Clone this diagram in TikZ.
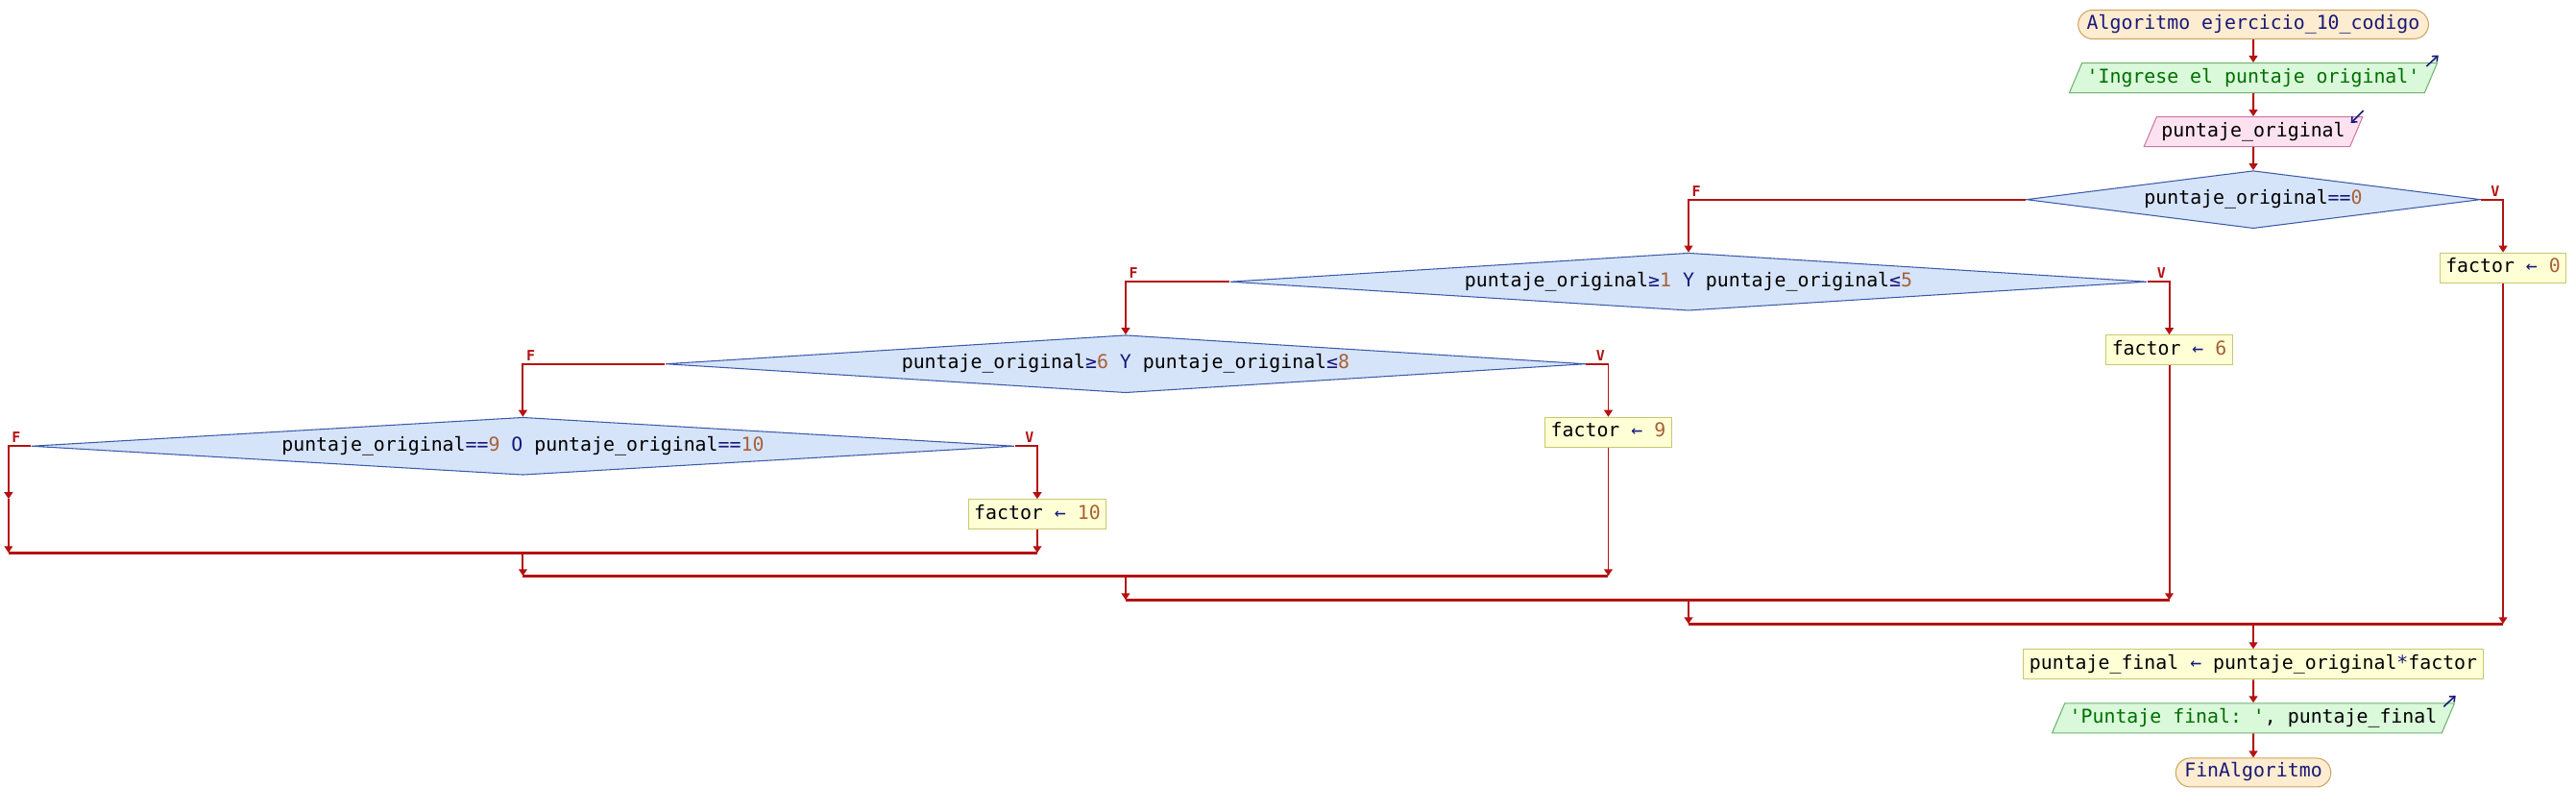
\documentclass[tikz,border=0pt]{standalone}
\usepackage{fontspec}
\setmonofont{DejaVu Sans Mono}
\usepackage{tikz}
\usetikzlibrary{shapes.geometric, arrows.meta, positioning, calc}

\definecolor{flujo}{RGB}{180,18,18}
\definecolor{azulOp}{RGB}{24,24,120}
\definecolor{cafeNum}{RGB}{168,96,56}
\definecolor{verdeTxt}{RGB}{0,110,0}
\definecolor{inicioFondo}{RGB}{253,236,208}
\definecolor{inicioBorde}{RGB}{205,165,100}
\definecolor{salidaFondo}{RGB}{218,248,218}
\definecolor{salidaBorde}{RGB}{110,180,110}
\definecolor{entradaFondo}{RGB}{252,226,240}
\definecolor{entradaBorde}{RGB}{205,120,165}
\definecolor{decFondo}{RGB}{214,228,250}
\definecolor{decBorde}{RGB}{60,90,170}
\definecolor{procFondo}{RGB}{255,255,214}
\definecolor{procBorde}{RGB}{200,200,110}

\newcommand{\opc}[1]{\textcolor{azulOp}{#1}}
\newcommand{\numc}[1]{\textcolor{cafeNum}{#1}}
\newcommand{\txtc}[1]{\textcolor{verdeTxt}{#1}}

\begin{document}
\begin{tikzpicture}[
    every node/.style={font=\ttfamily\fontsize{11.3}{13}\selectfont},
    caja/.style={text height=0.3cm, text depth=0.1cm, line width=0.6pt},
    inicio/.style={caja, rectangle, rounded corners=0.3cm, draw=inicioBorde, fill=inicioFondo, inner xsep=0.18cm, inner ysep=0.1cm, text=azulOp},
    salida/.style={caja, trapezium, trapezium left angle=67, trapezium right angle=113, draw=salidaBorde, fill=salidaFondo, inner xsep=0.1cm, inner ysep=0.11cm},
    entrada/.style={caja, trapezium, trapezium left angle=67, trapezium right angle=113, draw=entradaBorde, fill=entradaFondo, inner xsep=0.1cm, inner ysep=0.11cm},
    decision/.style={caja, diamond, draw=decBorde, fill=decFondo, inner sep=0pt, minimum height=1.2cm},
    proceso/.style={caja, rectangle, draw=procBorde, fill=procFondo, inner xsep=0.12cm, inner ysep=0.11cm},
    flecha/.style={->, >={Triangle[length=4pt, width=5pt]}, line width=1.1pt, flujo},
    union/.style={line width=2pt, flujo},
    icono/.style={->, >={Straight Barb[length=2.6pt, width=4.4pt]}, line width=0.9pt, azulOp},
    etiq/.style={font=\ttfamily\bfseries\fontsize{8.5}{9}\selectfont, text=flujo, inner sep=1.5pt}
]
\useasboundingbox (0,0) rectangle (53.64,-16.9);

% ============== Inicio y lectura ==============
\node[inicio] (alg) at (46.92,-0.51) {Algoritmo ejercicio\_10\_codigo};
\node[salida, below=0.48cm of alg] (pedir) {\txtc{'Ingrese el puntaje original'}};
\node[entrada, below=0.48cm of pedir] (leer) {puntaje\_original};

% ============== Decisiones anidadas ==============
\node[decision, aspect=7.9, minimum width=9.46cm, below=0.48cm of leer] (d1) {puntaje\_original\opc{==}\numc{0}};
\coordinate[right=0.46cm of d1.east] (d1v);
\coordinate[left=7.02cm of d1.west] (d1f);
\node[proceso, below=1.1cm of d1v] (f0) {factor \opc{←} \numc{0}};

\node[decision, aspect=15.9, minimum width=19.08cm, below=1.1cm of d1f] (d2) {puntaje\_original\opc{≥}\numc{1} \opc{Y} puntaje\_original\opc{≤}\numc{5}};
\coordinate[right=0.46cm of d2.east] (d2v);
\coordinate[left=2.17cm of d2.west] (d2f);
\node[proceso, below=1.1cm of d2v] (f6) {factor \opc{←} \numc{6}};

\node[decision, aspect=16, minimum width=19.16cm, below=1.1cm of d2f] (d3) {puntaje\_original\opc{≥}\numc{6} \opc{Y} puntaje\_original\opc{≤}\numc{8}};
\coordinate[right=0.46cm of d3.east] (d3v);
\coordinate[left=2.96cm of d3.west] (d3f);
\node[proceso, below=1.1cm of d3v] (f9) {factor \opc{←} \numc{9}};

\node[decision, aspect=17, minimum width=20.48cm, below=1.1cm of d3f] (d4) {puntaje\_original\opc{==}\numc{9} \opc{O} puntaje\_original\opc{==}\numc{10}};
\coordinate[right=0.46cm of d4.east] (d4v);
\coordinate[left=0.46cm of d4.west] (d4f);
\node[proceso, below=1.1cm of d4v] (f10) {factor \opc{←} \numc{10}};
\coordinate[below=1.1cm of d4f] (d4e);

% ============== Puntos de union ==============
\coordinate[below=0.48cm of f10] (j4v);
\coordinate (j4f) at (d4f |- j4v);
\coordinate (j4c) at (d4 |- j4v);
\coordinate[below=0.48cm of j4c] (j3f);
\coordinate (j3v) at (d3v |- j3f);
\coordinate (j3c) at (d3 |- j3f);
\coordinate[below=0.5cm of j3c] (j2f);
\coordinate (j2v) at (d2v |- j2f);
\coordinate (j2c) at (d2 |- j2f);
\coordinate[below=0.5cm of j2c] (j1f);
\coordinate (j1v) at (d1v |- j1f);
\coordinate (j1c) at (d1 |- j1f);

% ============== Calculo y salida ==============
\node[proceso, below=0.52cm of j1c] (pfin) {puntaje\_final \opc{←} puntaje\_original\opc{*}factor};
\node[salida, below=0.48cm of pfin] (mostrar) {\txtc{'Puntaje final: '}, puntaje\_final};
\node[inicio, below=0.5cm of mostrar] (fin) {FinAlgoritmo};

% ============== Conexiones ==============
\draw[flecha] (alg) -- (pedir);
\draw[flecha] (pedir) -- (leer);
\draw[flecha] (leer) -- (d1);

\draw[flecha] (d1.east) -| node[etiq, above left, pos=0.5]{V} (f0.north);
\draw[flecha] (d1.west) -| node[etiq, above right, pos=0.5]{F} (d2.north);
\draw[flecha] (d2.east) -| node[etiq, above left, pos=0.5]{V} (f6.north);
\draw[flecha] (d2.west) -| node[etiq, above right, pos=0.5]{F} (d3.north);
\draw[flecha] (d3.east) -| node[etiq, above left, pos=0.5]{V} (f9.north);
\draw[flecha] (d3.west) -| node[etiq, above right, pos=0.5]{F} (d4.north);
\draw[flecha] (d4.east) -| node[etiq, above left, pos=0.5]{V} (f10.north);
\draw[flecha] (d4.west) -| node[etiq, above right, pos=0.5]{F} (d4e);

% uniones de cada Si, de adentro hacia afuera
\draw[flecha] (d4e) -- (j4f);
\draw[flecha] (f10) -- (j4v);
\draw[union] (j4f) -- (j4v);
\draw[flecha] (j4c) -- (j3f);
\draw[flecha] (f9) -- (j3v);
\draw[union] (j3f) -- (j3v);
\draw[flecha] (j3c) -- (j2f);
\draw[flecha] (f6) -- (j2v);
\draw[union] (j2f) -- (j2v);
\draw[flecha] (j2c) -- (j1f);
\draw[flecha] (f0) -- (j1v);
\draw[union] (j1f) -- (j1v);

\draw[flecha] (j1c) -- (pfin);
\draw[flecha] (pfin) -- (mostrar);
\draw[flecha] (mostrar) -- (fin);

% ============== Iconos de E/S ==============
\draw[icono] ([shift={(-0.24,-0.08)}]pedir.top right corner) -- ([shift={(0.01,0.15)}]pedir.top right corner);
\draw[icono] ([shift={(0,0.12)}]leer.top right corner) -- ([shift={(-0.26,-0.14)}]leer.top right corner);
\draw[icono] ([shift={(-0.24,-0.08)}]mostrar.top right corner) -- ([shift={(0.01,0.15)}]mostrar.top right corner);
\end{tikzpicture}
\end{document}
